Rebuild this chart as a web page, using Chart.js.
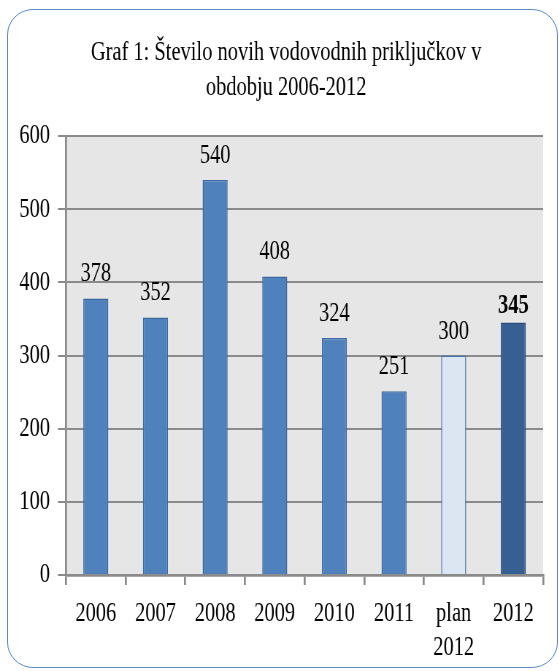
<!DOCTYPE html>
<html>
<head>
<meta charset="utf-8">
<script src="https://cdn.jsdelivr.net/npm/chart.js@4"></script>
<style>
  html, body { margin: 0; padding: 0; background: #fff; overflow: hidden; }
  #wrap { position: relative; width: 559px; height: 671px; }
  #chart { position: absolute; left: 0; top: 0; transform: scaleX(0.73); transform-origin: 0 0; }
  #frame {
    position: absolute; left: 7px; top: 9px; width: 549px; height: 657px;
    border: 1.5px solid #5b8bc7; border-radius: 26px; pointer-events: none;
  }
</style>
</head>
<body>
<div id="wrap">
  <canvas id="chart" width="766" height="671"></canvas>
  <div id="frame"></div>
</div>
<script>
const titleLines = ['Graf 1: Število novih vodovodnih priključkov v', 'obdobju 2006-2012'];
const categories = ['2006', '2007', '2008', '2009', '2010', '2011', ['plan', '2012'], '2012'];
const values = [378, 352, 540, 408, 324, 251, 300, 345];
const yTicks = [0, 100, 200, 300, 400, 500, 600];

const font = 'Liberation Serif';
const gridGray = '#8a8a8a';

const barFill = ['#4f81bd', '#4f81bd', '#4f81bd', '#4f81bd', '#4f81bd', '#4f81bd', '#dce6f2', '#376092'];
const barBorder = ['#3d6a9e', '#3d6a9e', '#3d6a9e', '#3d6a9e', '#3d6a9e', '#3d6a9e', '#4a76a8', '#2c4f7a'];

// grey plot background
const plotBg = {
  id: 'plotBg',
  beforeDraw(chart) {
    const a = chart.chartArea;
    const ctx = chart.ctx;
    ctx.save();
    ctx.fillStyle = '#e6e6e6';
    ctx.fillRect(a.left, a.top, a.right - a.left, a.bottom - a.top);
    ctx.restore();
  }
};

// title is centred on the frame, not on the plot
const titleShift = {
  id: 'titleShift',
  afterLayout(chart) {
    chart.titleBlock.left = 40;
  }
};

// value labels over the bars, last one bold
const valueLabels = {
  id: 'valueLabels',
  afterDatasetsDraw(chart) {
    const ctx = chart.ctx;
    const meta = chart.getDatasetMeta(0);
    ctx.save();
    ctx.fillStyle = '#000';
    ctx.textAlign = 'center';
    ctx.textBaseline = 'alphabetic';
    meta.data.forEach((bar, i) => {
      const bold = i === values.length - 1;
      ctx.font = (bold ? 'bold ' : '') + '28px "' + font + '"';
      ctx.fillText(String(values[i]), bar.x, bar.y - (bold ? 10 : 17));
    });
    ctx.restore();
  }
};

new Chart(document.getElementById('chart'), {
  type: 'bar',
  data: {
    labels: categories,
    datasets: [{
      data: values,
      backgroundColor: barFill,
      borderColor: barBorder,
      borderWidth: 1.5,
      barPercentage: 0.42,
      categoryPercentage: 1.0,
    }],
  },
  options: {
    responsive: false,
    animation: false,
    layout: { padding: { left: 0, right: 22, top: 0, bottom: 0 } },
    plugins: {
      legend: { display: false },
      tooltip: { enabled: false },
      title: {
        display: true,
        text: titleLines,
        color: '#000',
        font: { family: font, size: 28, weight: 'normal', lineHeight: 35 / 28 },
        padding: { top: 35, bottom: 31 },
      },
    },
    scales: {
      x: {
        grid: { display: true, drawOnChartArea: false, color: gridGray, lineWidth: 2.7, tickLength: 10, offset: true },
        border: { display: true, color: gridGray, width: 2.7 },
        ticks: {
          color: '#000',
          font: { family: font, size: 28, lineHeight: 34 / 28 },
          padding: 12,
          maxRotation: 0,
          autoSkip: false,
        },
        afterFit(scale) { scale.height = 96; },
      },
      y: {
        min: 0,
        max: 600,
        afterBuildTicks(scale) { scale.ticks = yTicks.map(v => ({ value: v })); },
        grid: { color: gridGray, lineWidth: 2, tickLength: 11 },
        border: { display: true, color: gridGray, width: 2.7 },
        ticks: {
          color: '#000',
          font: { family: font, size: 28 },
          padding: 11,
        },
        afterFit(scale) { scale.width = 90.4; },
      },
    },
  },
  plugins: [plotBg, titleShift, valueLabels],
});
</script>
</body>
</html>
